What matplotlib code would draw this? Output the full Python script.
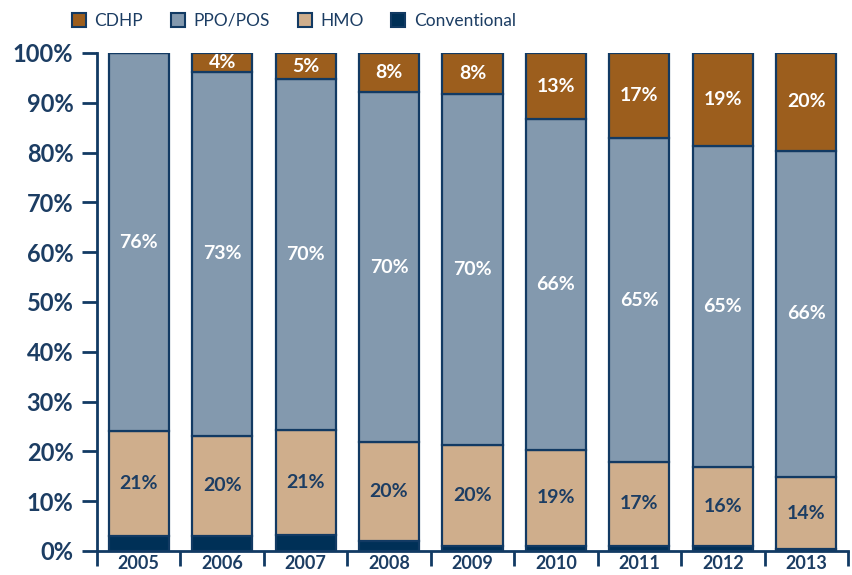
import numpy as np
import matplotlib
matplotlib.use("Agg")
import matplotlib.pyplot as plt
from matplotlib.patches import Patch

years = ["2005", "2006", "2007", "2008", "2009", "2010", "2011", "2012", "2013"]
conventional = [3.1, 3.1, 3.2, 2.1, 1.0, 1.0, 1.0, 1.0, 0.4]
hmo = [20.9, 20.0, 21.1, 19.8, 20.3, 19.3, 16.9, 15.8, 14.4]
ppo_pos = [76.0, 73.1, 70.4, 70.2, 70.4, 66.4, 65.0, 64.6, 65.6]
cdhp = [0.0, 3.8, 5.3, 7.9, 8.3, 13.3, 17.1, 18.6, 19.6]

navy = "#123A63"
text_navy = "#1C3D63"
c_conv = "#003057"
c_hmo = "#CFAE8C"
c_ppo = "#8399AE"
c_cdhp = "#9C5E1D"

plt.rcParams['font.family'] = ['Lato', 'DejaVu Sans']

fig = plt.figure(figsize=(8.52, 5.75), dpi=100)
ax = fig.add_axes([97 / 852, 24 / 575, 751 / 852, 498 / 575])

x = np.arange(len(years))
w = 0.72
series = [
    ("Conventional", conventional, c_conv, None),
    ("HMO", hmo, c_hmo, text_navy),
    ("PPO/POS", ppo_pos, c_ppo, "white"),
    ("CDHP", cdhp, c_cdhp, "white"),
]
bottom = np.zeros(len(years))
for name, vals, col, tcol in series:
    vals = np.array(vals)
    ax.bar(x, vals, w, bottom=bottom, color=col, edgecolor=navy, linewidth=1.6, zorder=2)
    if tcol is not None:
        for xi, b, v in zip(x, bottom, vals):
            if v >= 1.5:
                ax.text(xi, b + v / 2, "%.0f%%" % v, ha="center", va="center",
                        color=tcol, fontsize=14, fontweight="bold", zorder=3)
    bottom = bottom + vals

ax.set_xlim(-0.5, len(years) - 0.5)
ax.set_ylim(0, 100)
ax.set_yticks(np.arange(0, 101, 10))
ax.set_yticklabels(["%d%%" % v for v in range(0, 101, 10)])
ax.set_xticks(x)
ax.set_xticklabels(years)
ax.set_xticks(np.arange(-0.5, len(years), 1), minor=True)

for s in ["top", "right"]:
    ax.spines[s].set_visible(False)
for s in ["left", "bottom"]:
    ax.spines[s].set_color(navy)
    ax.spines[s].set_linewidth(2)

ax.tick_params(axis="y", length=11, width=2, color=navy, pad=6,
               labelsize=17, labelcolor=text_navy)
for t in ax.get_yticklabels():
    t.set_fontweight("bold")
ax.tick_params(axis="x", which="major", length=0, pad=3, labelsize=13, labelcolor=text_navy)
for t in ax.get_xticklabels():
    t.set_fontweight("bold")
ax.tick_params(axis="x", which="minor", length=11, width=2, color=navy)

handles = [Patch(facecolor=c, edgecolor=navy, linewidth=1.5, label=n)
           for n, c in [("CDHP", c_cdhp), ("PPO/POS", c_ppo), ("HMO", c_hmo), ("Conventional", c_conv)]]
fig.legend(handles=handles, loc="center", bbox_to_anchor=(294 / 852, 1 - 21 / 575), ncol=4,
           frameon=False, handlelength=0.8, handleheight=0.8, handletextpad=0.5,
           columnspacing=1.6, prop={"size": 12.5}, labelcolor=text_navy)

fig.savefig("out.png", dpi=100)
